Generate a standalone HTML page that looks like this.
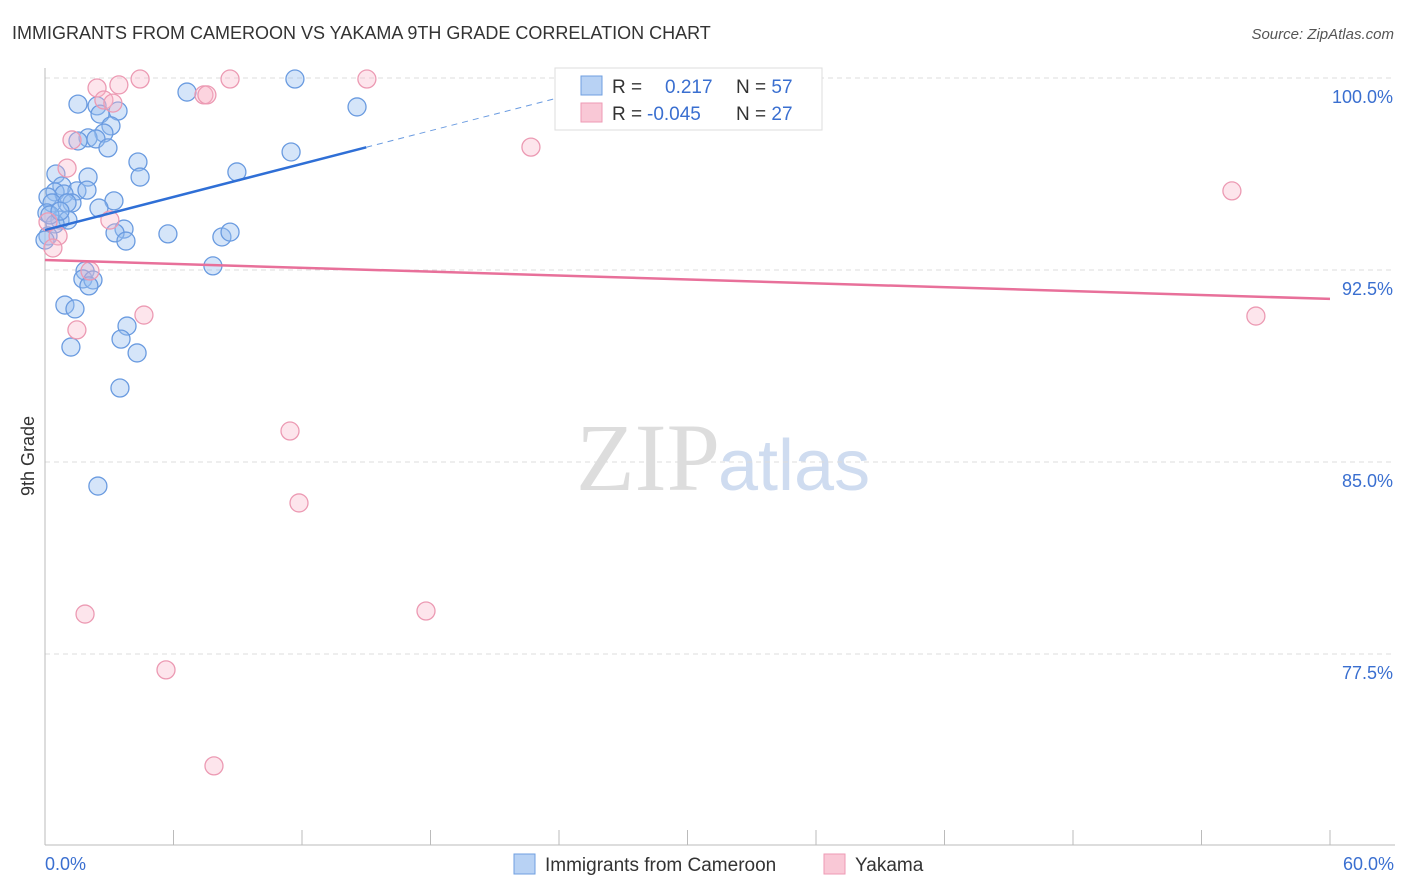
<!DOCTYPE html>
<html><head><meta charset="utf-8"><style>
body{margin:0;background:#fff;font-family:"Liberation Sans",sans-serif;}
svg{display:block}
</style></head><body>
<svg width="1406" height="892">
<text x="12" y="39" font-size="18" fill="#333">IMMIGRANTS FROM CAMEROON VS YAKAMA 9TH GRADE CORRELATION CHART</text>
<text x="1394" y="39" font-size="15" fill="#555" font-style="italic" text-anchor="end">Source: ZipAtlas.com</text>
<text x="720" y="490" font-size="96" fill="#ddd" text-anchor="end" font-family="Liberation Serif">ZIP</text>
<text x="718" y="490" font-size="72" fill="#cfdcf0">atlas</text>
<g id="grid"></g>
<g id="axes"></g>
<g id="pts"></g>
<g id="lines"></g>
<text x="34" y="456" font-size="18" fill="#333" transform="rotate(-90 34 456)" text-anchor="middle">9th Grade</text>
<g>
<rect x="555" y="68" width="267" height="62" fill="#fff" stroke="#ddd"/>
<rect x="581" y="76" width="21" height="19" fill="#b8d2f4" stroke="#6f9fe0"/>
<rect x="581" y="103" width="21" height="19" fill="#f9c8d6" stroke="#ee9ab4"/>
<text x="612" y="93" font-size="19" fill="#333">R = <tspan fill="#3a6fd0" x="665">0.217</tspan><tspan fill="#333" x="736">N = </tspan><tspan fill="#3a6fd0">57</tspan></text>
<text x="612" y="120" font-size="19" fill="#333">R = <tspan fill="#3a6fd0" x="647">-0.045</tspan><tspan fill="#333" x="736">N = </tspan><tspan fill="#3a6fd0">27</tspan></text>
</g>
<g>
<rect x="514" y="854" width="21" height="20" fill="#b8d2f4" stroke="#6f9fe0"/>
<text x="545" y="871" font-size="19" fill="#333">Immigrants from Cameroon</text>
<rect x="824" y="854" width="21" height="20" fill="#f9c8d6" stroke="#ee9ab4"/>
<text x="855" y="871" font-size="19" fill="#333">Yakama</text>
</g>
</svg>
<script>
const xTicks=[0,60];
const yTicks=[100,92.5,85,77.5];
const blueX=[1.54,2.43,2.57,3.41,3.08,2.75,2.01,2.38,1.54,2.94,4.34,4.44,0.51,2.01,0.79,0.47,1.49,1.96,0.89,3.22,0.14,0.33,1.26,1.03,2.52,0.09,0.70,1.07,0.47,0.14,3.69,3.27,3.78,5.74,8.26,8.64,6.63,11.67,14.57,11.49,8.96,7.84,1.87,1.77,2.24,2.05,0.93,1.40,3.83,3.55,1.21,4.30,3.50,2.47,0,0.23,0.7];
const blueY=[98.98,98.91,98.59,98.71,98.13,97.85,97.66,97.62,97.54,97.27,96.72,96.13,96.25,96.13,95.78,95.55,95.59,95.62,95.47,95.20,95.35,95.12,95.12,95.12,94.92,94.73,94.45,94.45,94.30,93.83,94.10,93.95,93.63,93.91,93.79,93.98,99.45,99.96,98.87,97.11,96.33,92.66,92.46,92.15,92.11,91.88,91.13,90.98,90.31,89.80,89.49,89.26,87.89,84.06,93.67,94.65,94.8];
const pinkX=[2.43,3.45,4.44,8.64,15.03,7.42,7.56,2.75,3.17,1.26,1.03,22.69,55.42,3.03,0.61,0.37,0.14,2.10,4.62,1.49,56.54,11.44,11.86,1.87,17.79,5.65,7.89];
const pinkY=[99.61,99.73,99.96,99.96,99.96,99.34,99.34,99.14,99.02,97.58,96.48,97.30,95.59,94.45,93.83,93.36,94.38,92.46,90.74,90.16,90.70,86.21,83.40,79.06,79.18,76.88,73.13];
const blueTrend=[94.06,0.2156];
const pinkTrend=[92.89,-0.0253];
const X0=45,X1=1330,Y100=78,PXPER=192/7.5;
const sx=v=>X0+(v/60)*(X1-X0);
const sy=v=>Y100+(100-v)*PXPER;
const NS='http://www.w3.org/2000/svg';
function mk(tag,attrs,parent,txt){const e=document.createElementNS(NS,tag);for(const k in attrs)e.setAttribute(k,attrs[k]);if(txt!==undefined)e.textContent=txt;parent.appendChild(e);return e;}
const grid=document.getElementById('grid'),axes=document.getElementById('axes'),pts=document.getElementById('pts'),lines=document.getElementById('lines');
yTicks.forEach(t=>{
 const l=mk('line',{x1:X0,x2:1395,y1:sy(t),y2:sy(t),stroke:'#ddd','stroke-dasharray':'5,4'},grid);
 
 
 const tx=mk('text',{x:1393,y:sy(t)+25,'font-size':18,fill:'#3a6fd0','text-anchor':'end'},axes,t.toFixed(1)+'%');
 
 
});
const al=mk('line',{x1:X0,x2:X0,y1:68,y2:845,stroke:'#bbb'},axes);


const bl=mk('line',{x1:X0,x2:1395,y1:845,y2:845,stroke:'#bbb'},axes);


for(let i=0;i<=10;i++){const v=i*6;const t=mk('line',{x1:sx(v),x2:sx(v),y1:830,y2:845,stroke:'#bbb'},axes);
 
 }
xTicks.forEach((t,i)=>{const tx=mk('text',{x:i==0?45:1394,y:870,'font-size':18,fill:'#3a6fd0','text-anchor':i==0?'start':'end'},axes,t.toFixed(1)+'%');
 
 });
blueX.forEach((x,i)=>{const c=mk('circle',{cx:sx(x),cy:sy(blueY[i]),r:9,fill:'rgba(150,190,240,0.4)',stroke:'#6a9be0','stroke-width':1.3},pts);
 
 });
pinkX.forEach((x,i)=>{const c=mk('circle',{cx:sx(x),cy:sy(pinkY[i]),r:9,fill:'rgba(248,180,200,0.35)',stroke:'#ec9ab3','stroke-width':1.3},pts);
 
 });
const bf=x=>blueTrend[0]+blueTrend[1]*x, pf=x=>pinkTrend[0]+pinkTrend[1]*x;
const b1=mk('line',{x1:sx(0),y1:sy(bf(0)),x2:sx(15),y2:sy(bf(15)),stroke:'#2f6fd6','stroke-width':2.5},lines);


const b2=mk('line',{x1:sx(15),y1:sy(bf(15)),x2:sx(25.5),y2:sy(bf(25.5)),stroke:'#6a9be0','stroke-width':1,'stroke-dasharray':'6,5'},lines);


const p1=mk('line',{x1:sx(0),y1:sy(pf(0)),x2:sx(60),y2:sy(pf(60)),stroke:'#e8709a','stroke-width':2.5},lines);


</script>
</body></html>
